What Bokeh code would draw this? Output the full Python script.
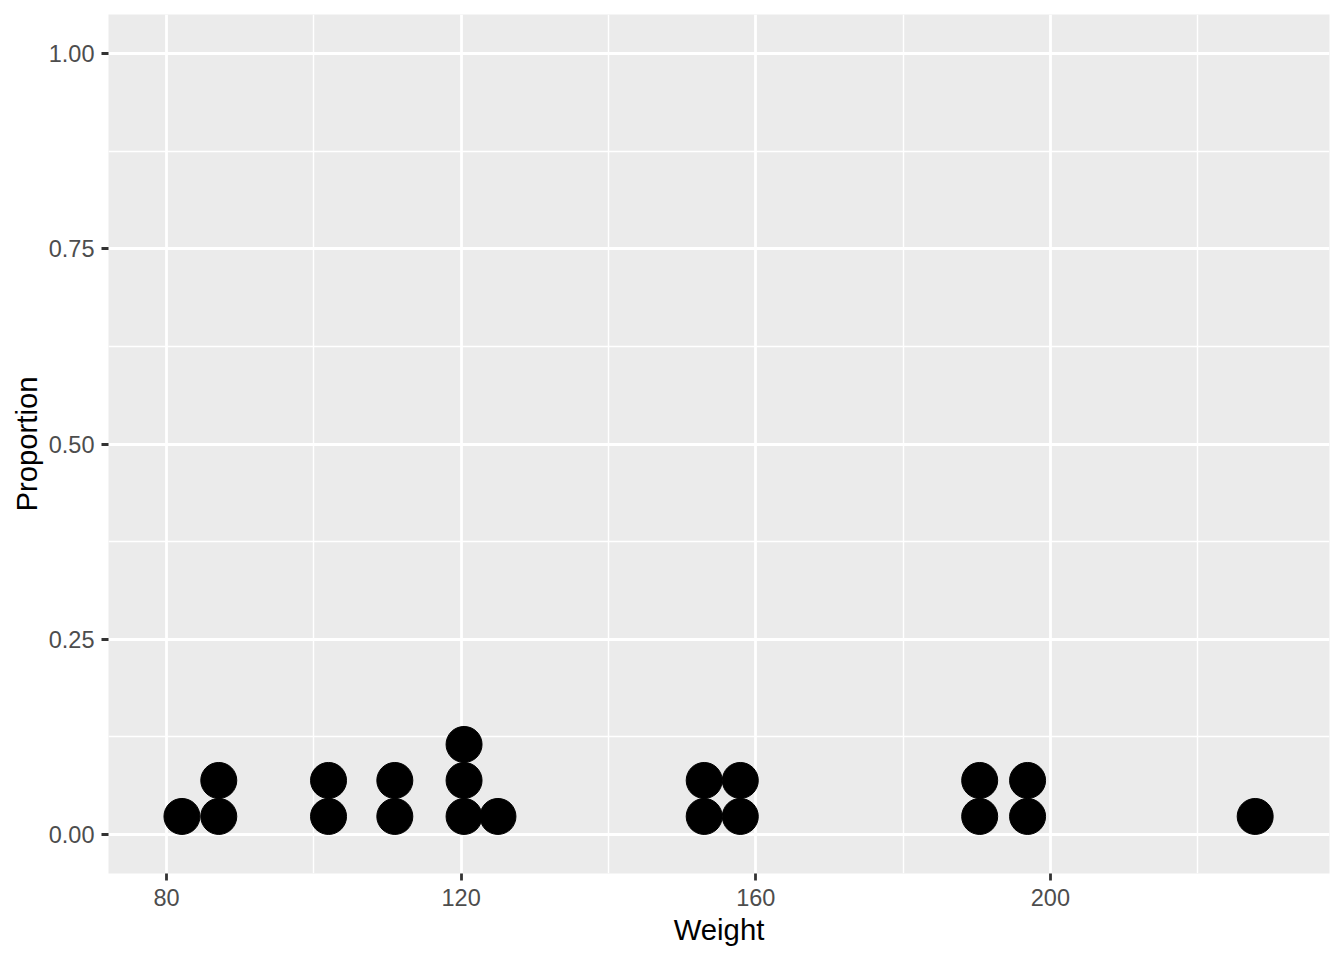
from bokeh.plotting import figure
from bokeh.models import FixedTicker, Range1d
from bokeh.embed import file_html
from bokeh.resources import INLINE

# Data: bin centres (Weight) and dot counts per bin
weight_bins = [82.1, 87.1, 102.0, 111.0, 120.4, 125.0, 153.0, 157.9, 190.4, 196.9, 227.8]
bin_counts = [1, 2, 2, 2, 3, 1, 2, 2, 2, 2, 1]

x_ticks = [80, 120, 160, 200]
x_minor = [100, 140, 180, 220]
y_ticks = [0.0, 0.25, 0.5, 0.75, 1.0]
y_minor = [0.125, 0.375, 0.625, 0.875]
y_tick_labels = {0.0: "0.00", 0.25: "0.25", 0.5: "0.50", 0.75: "0.75", 1.0: "1.00"}

DOT_PX = 36          # dot diameter on screen
STACK_STEP = 0.0461  # dot diameter in y-data units

xs, ys = [], []
for w, c in zip(weight_bins, bin_counts):
    for k in range(c):
        xs.append(w)
        ys.append((k + 0.5) * STACK_STEP)

p = figure(width=1344, height=960, output_backend="svg", toolbar_location=None,
           x_range=Range1d(72.13, 237.89), y_range=Range1d(-0.05, 1.05),
           min_border_left=108, min_border_right=15, min_border_top=14, min_border_bottom=87)

p.background_fill_color = "#EBEBEB"
p.border_fill_color = "white"
p.outline_line_color = None

p.scatter(xs, ys, size=DOT_PX, marker="circle", fill_color="black", line_color="black")

p.xaxis.ticker = FixedTicker(ticks=x_ticks, minor_ticks=x_minor)
p.yaxis.ticker = FixedTicker(ticks=y_ticks, minor_ticks=y_minor)
p.yaxis.major_label_overrides = y_tick_labels

for g in (p.xgrid, p.ygrid):
    g.grid_line_color = "white"
    g.grid_line_width = 2.8
    g.minor_grid_line_color = "white"
    g.minor_grid_line_width = 1.4

for ax in (p.xaxis, p.yaxis):
    ax.axis_line_color = None
    ax.minor_tick_line_color = None
    ax.major_tick_line_color = "#333333"
    ax.major_tick_line_width = 2.8
    ax.major_tick_in = 0
    ax.major_tick_out = 7
    ax.major_label_text_font = "Liberation Sans"
    ax.major_label_text_font_size = "23.5px"
    ax.major_label_text_color = "#4D4D4D"
    ax.axis_label_text_font = "Liberation Sans"
    ax.axis_label_text_font_size = "29.3px"
    ax.axis_label_text_color = "black"
    ax.axis_label_text_font_style = "normal"

p.xaxis.axis_label = "Weight"
p.yaxis.axis_label = "Proportion"
p.xaxis.major_label_standoff = 8
p.yaxis.major_label_standoff = 7
p.xaxis.axis_label_standoff = 4
p.yaxis.axis_label_standoff = 3

open("out.html", "w").write(file_html(p, INLINE))
